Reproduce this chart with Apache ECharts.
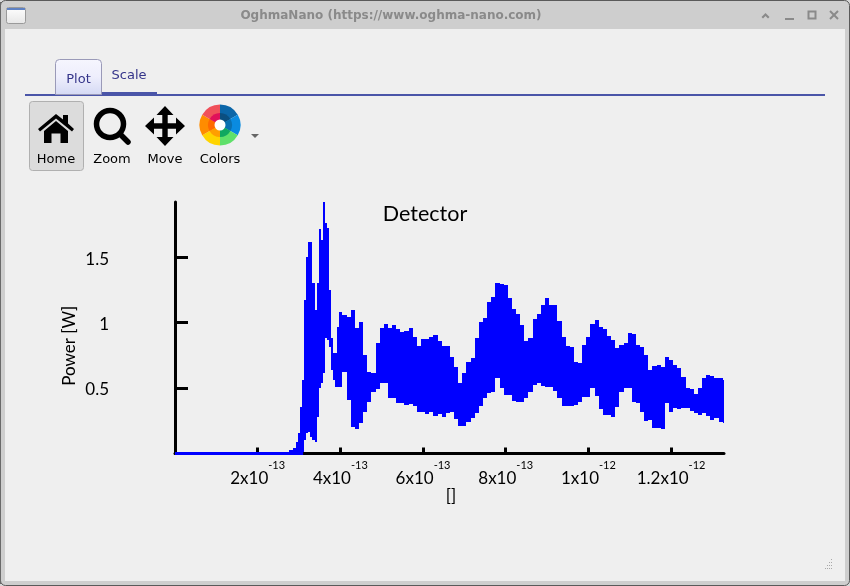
<!DOCTYPE html>
<html><head><meta charset="utf-8">
<script src="https://cdn.jsdelivr.net/npm/echarts@6/dist/echarts.min.js"></script>
<style>html,body{margin:0;padding:0;background:#d8d8d8}#c{width:850px;height:586px}</style>
</head><body><div id="c"></div>
<script>
// time in units of 1e-13 s
const times = [2.7,2.8,2.9,2.95,3.0,3.05,3.1,3.15,3.2,3.25,3.3,3.35,3.4,3.45,3.5,3.55,3.6,3.65,3.7,3.75,3.8,3.85,3.9,3.95,4.0,4.1,4.2,4.3,4.4,4.5,4.6,4.7,4.8,4.9,5.0,5.1,5.2,5.3,
5.4,5.5,5.6,5.7,5.8,5.9,6.0,6.1,6.2,6.3,6.4,6.5,6.6,6.7,6.8,6.9,7.0,7.1,7.2,7.3,7.4,7.5,7.6,7.7,7.8,7.9,
8.0,8.1,8.2,8.3,8.4,8.5,8.6,8.7,8.8,8.9,9.0,9.1,9.2,9.3,9.4,9.5,9.6,9.7,9.8,9.9,10.0,10.1,10.2,10.3,10.4,10.5,10.6,
10.7,10.8,10.9,11.0,11.1,11.2,11.3,11.4,11.5,11.6,11.7,11.8,11.9,12.0,12.1,12.2,12.3,12.4,12.5,12.6,12.7,12.8,12.9,13.0,13.1,13.2,13.3];
const powerUpper = [.014,.027,.04,.09,.154,.357,.561,1.17,1.50,1.612,1.612,1.299,1.095,1.299,1.714,1.63,1.917,1.757,1.719,1.248,.879,.765,.765,.968,1.083,1.057,1.044,1.095,.955,1.006,.752,.625,.617,.841,.955,.988,.955,.981,
.948,.930,.935,.956,.892,.821,.872,.872,.892,.905,.862,.821,.821,.734,.663,.536,.612,.701,.727,.879,1.007,1.032,1.159,1.197,1.304,1.294,
1.286,1.185,1.103,1.065,.981,.862,.879,1.024,1.065,1.134,1.185,1.134,1.134,1.014,.892,.821,.811,.701,.689,.828,.892,.989,1.019,.968,.951,.897,.867,
.803,.828,.846,.918,.912,.828,.816,.752,.638,.668,.676,.663,.739,.714,.676,.650,.587,.498,.490,.454,.498,.574,.599,.592,.574,.574,.561];
const powerLower = [0,0,0,0,0,0,.014,.103,.154,.161,.128,.103,.09,.281,.497,.536,.612,.879,.866,.815,.637,.561,.51,.51,.51,.625,.408,.205,.184,.23,.319,.396,.472,.492,.536,.536,.421,.421,
.388,.388,.370,.376,.363,.320,.320,.302,.320,.289,.302,.281,.307,.320,.261,.210,.210,.243,.274,.307,.363,.421,.465,.472,.574,.498,
.447,.447,.401,.396,.396,.421,.472,.523,.536,.518,.510,.510,.480,.421,.363,.363,.363,.370,.396,.429,.429,.498,.439,.337,.294,.294,.281,
.358,.472,.498,.498,.396,.383,.320,.251,.256,.192,.192,.185,.383,.320,.345,.337,.345,.345,.327,.307,.294,.307,.287,.256,.269,.243,.236];
const baselineTimes = [0,3.1];
const baselineValues = [0,0];
const xTickLabels = {2:['2x10','-13'],4:['4x10','-13'],6:['6x10','-13'],8:['8x10','-13'],10:['1x10','-12'],12:['1.2x10','-12']};
const yTickLabels = {0.5:'0.5',1:'1',1.5:'1.5'};
const wheelOuter = ['#0b66a8','#0a8be0','#5fe06a','#ffd400','#ff8c00','#f0505a'];
const wheelInner = ['#0b4f80','#0a70b0','#10a860','#ff9f00','#ff6a00','#e0105a'];

const bandData = times.map((t,i)=>[t,powerLower[i],powerUpper[i]]);
const UI = 'DejaVu Sans', PLOT = 'Lato';
const g = [];
const rect = (x,y,w,h,fill,extra={}) => g.push({type:'rect',shape:{x,y,width:w,height:h,r:extra.r||0},style:{fill,stroke:extra.stroke||null,lineWidth:extra.lw||1},silent:true,z:extra.z||0});
const label = (x,y,text,fill,font,size,weight) => g.push({type:'text',x,y,style:{text,fill,font:(weight||'normal')+' '+size+'px "'+font+'"',textAlign:'center',textVerticalAlign:'middle'},silent:true,z:5});
const poly = (points,fill) => g.push({type:'polygon',shape:{points},style:{fill},silent:true,z:5});
// window frame
rect(0.5,0.5,849,585,'#cecece',{stroke:'#5a5a5a',r:5});
rect(5,29,840,552,'#efefef');
rect(0,2,1,582,'#6a6a6a');
// title bar
g.push({type:'rect',shape:{x:6.5,y:7.5,width:19,height:16,r:2},style:{fill:new echarts.graphic.LinearGradient(0,0,0,1,[{offset:0,color:'#ffffff'},{offset:1,color:'#e6e6e6'}]),stroke:'#9a9a9a'},silent:true,z:2});
rect(7,8,18,2,'#5f82c4',{z:3});
label(391,15.5,'OghmaNano (https://www.oghma-nano.com)','#8a8a8a',UI,12,'bold');
poly([[765.5,13],[769.5,17],[768,18.5],[765.5,16],[763,18.5],[761.5,17]],'#8a8a8a');
rect(785,18,9,2,'#8a8a8a',{z:5});
g.push({type:'rect',shape:{x:808.5,y:11.5,width:7,height:7},style:{fill:null,stroke:'#8a8a8a',lineWidth:2},silent:true,z:5});
g.push({type:'line',shape:{x1:830,y1:11,x2:838,y2:19},style:{stroke:'#8a8a8a',lineWidth:2},silent:true,z:5});
g.push({type:'line',shape:{x1:838,y1:11,x2:830,y2:19},style:{stroke:'#8a8a8a',lineWidth:2},silent:true,z:5});
// tabs
rect(25,94,800,2,'#4a55a8',{z:1});
rect(102,92,55,2,'#4a55a8',{z:1});
g.push({type:'rect',shape:{x:55.5,y:59.5,width:46,height:35,r:[4,4,0,0]},style:{fill:new echarts.graphic.LinearGradient(0,0,0,1,[{offset:0,color:'#f6f6fe'},{offset:.5,color:'#eeeefc'},{offset:1,color:'#d4d9f4'}]),stroke:'#9a9ab8'},silent:true,z:2});
label(78.5,79.5,'Plot','#35358a',UI,13);
label(129,75.5,'Scale','#35358a',UI,13);
// toolbar
rect(29.5,101.5,54,69,'#dcdcdc',{stroke:'#b0b0b0',r:3});
label(56,159.5,'Home','#000',UI,13);
label(112,159.5,'Zoom','#000',UI,13);
label(165,159.5,'Move','#000',UI,13);
label(220,159.5,'Colors','#000',UI,13);
poly([[56,114],[63,119.5],[63,115],[68,115],[68,123.5],[74,129],[72,131.5],[56,118.5],[40,131.5],[38,129]],'#000');
poly([[56,121],[68,131],[68,143],[60.5,143],[60.5,133.5],[51.5,133.5],[51.5,143],[44,143],[44,131]],'#000');
g.push({type:'circle',shape:{cx:110,cy:124,r:13.5},style:{fill:null,stroke:'#000',lineWidth:5.5},silent:true,z:5});
g.push({type:'line',shape:{x1:120,y1:134,x2:128,y2:142},style:{stroke:'#000',lineWidth:5.5,lineCap:'round'},silent:true,z:5});
poly([[165,106],[173.5,115],[167.7,115],[167.7,123.3],[176,123.3],[176,117.5],[185,126],[176,134.5],[176,128.7],[167.7,128.7],[167.7,137],[173.5,137],[165,146],[156.5,137],[162.3,137],[162.3,128.7],[154,128.7],[154,134.5],[145,126],[154,117.5],[154,123.3],[162.3,123.3],[162.3,115],[156.5,115]],'#000');
wheelOuter.forEach((c,i)=>{
  const a0 = -Math.PI/2 + i*Math.PI/3, a1 = a0 + Math.PI/3;
  g.push({type:'sector',shape:{cx:220,cy:125,r:20.5,r0:0,startAngle:a0,endAngle:a1},style:{fill:c},silent:true,z:5});
  g.push({type:'sector',shape:{cx:220,cy:125,r:12,r0:0,startAngle:a0,endAngle:a1},style:{fill:wheelInner[i]},silent:true,z:6});
});
g.push({type:'circle',shape:{cx:220,cy:125,r:5.5},style:{fill:'#fff'},silent:true,z:7});
poly([[251,134],[259,134],[255,138]],'#666');
// resize grip
[[831,559],[829,562],[831,562],[827,565],[829,565],[831,565],[825,568],[827,568],[829,568],[831,568]].forEach(p=>rect(p[0],p[1],1,1,'#a8a8a8',{z:5}));

function renderBand(params, api){
  const i = params.dataIndex, t = api.value(0);
  const prev = i>0 ? times[i-1] : t-0.1, next = i<times.length-1 ? times[i+1] : t+0.1;
  const x0 = Math.round(api.coord([(prev+t)/2,0])[0]);
  const x1 = Math.round(api.coord([(t+next)/2,0])[0]);
  const top = Math.round(api.coord([t, api.value(2)])[1]);
  const bot = Math.round(api.coord([t, api.value(1)])[1]);
  const shape = echarts.graphic.clipRectByRect({x:x0,y:top,width:x1-x0,height:Math.max(bot-top,2)},
    {x:params.coordSys.x,y:params.coordSys.y-1,width:params.coordSys.width,height:params.coordSys.height+3});
  return shape && {type:'rect',shape,style:{fill:'#0000ff'}};
}

const chart = echarts.init(document.getElementById('c'),null,{renderer:'canvas'});
chart.setOption({
  animation:false,
  backgroundColor:'transparent',
  title:{text:'Detector',left:420,top:198,textAlign:'center',textStyle:{fontFamily:PLOT,fontWeight:'normal',fontSize:21.5,color:'#000'}},
  grid:{left:175,right:126,top:202,bottom:132.5},
  xAxis:{type:'value',min:0,max:13.28,interval:2,
    splitLine:{show:false},
    axisLine:{lineStyle:{color:'#000',width:3}},
    axisTick:{inside:true,length:6,lineStyle:{color:'#000',width:3}},
    axisLabel:{margin:6,hideOverlap:false,showMaxLabel:false,
      formatter:v=>xTickLabels[v]?'{b|'+xTickLabels[v][0]+'}{s|'+xTickLabels[v][1]+'}':'',
      rich:{b:{fontFamily:PLOT,fontSize:17,color:'#000',height:18,lineHeight:28,verticalAlign:'bottom'},
            s:{fontFamily:PLOT,fontSize:11,color:'#000',height:12,lineHeight:28,verticalAlign:'top'}}},
    name:'[]',nameLocation:'middle',nameGap:34,nameTextStyle:{fontFamily:PLOT,fontSize:17,color:'#000',padding:[0,0,0,3]}},
  yAxis:{type:'value',min:0,max:1.92,interval:.5,
    splitLine:{show:false},
    axisLine:{lineStyle:{color:'#000',width:3}},
    axisTick:{inside:true,length:13,lineStyle:{color:'#000',width:3}},
    axisLabel:{margin:66,showMaxLabel:false,fontFamily:PLOT,fontSize:17,color:'#000',verticalAlign:'top',lineHeight:4,formatter:v=>yTickLabels[v]||''},
    name:'Power [W]',nameLocation:'middle',nameGap:97,nameMoveOverlap:false,nameTextStyle:{fontFamily:PLOT,fontSize:17,color:'#000',padding:[0,36,0,0]}},
  series:[
    {name:'Baseline',type:'line',data:baselineTimes.map((t,i)=>[t,baselineValues[i]]),showSymbol:false,clip:false,z:3,lineStyle:{color:'#0000ff',width:3}},
    {name:'Detector',type:'custom',data:bandData,encode:{x:0,y:[1,2]},renderItem:renderBand,clip:false,z:3}
  ],
  graphic:{elements:g}
});
</script></body></html>
